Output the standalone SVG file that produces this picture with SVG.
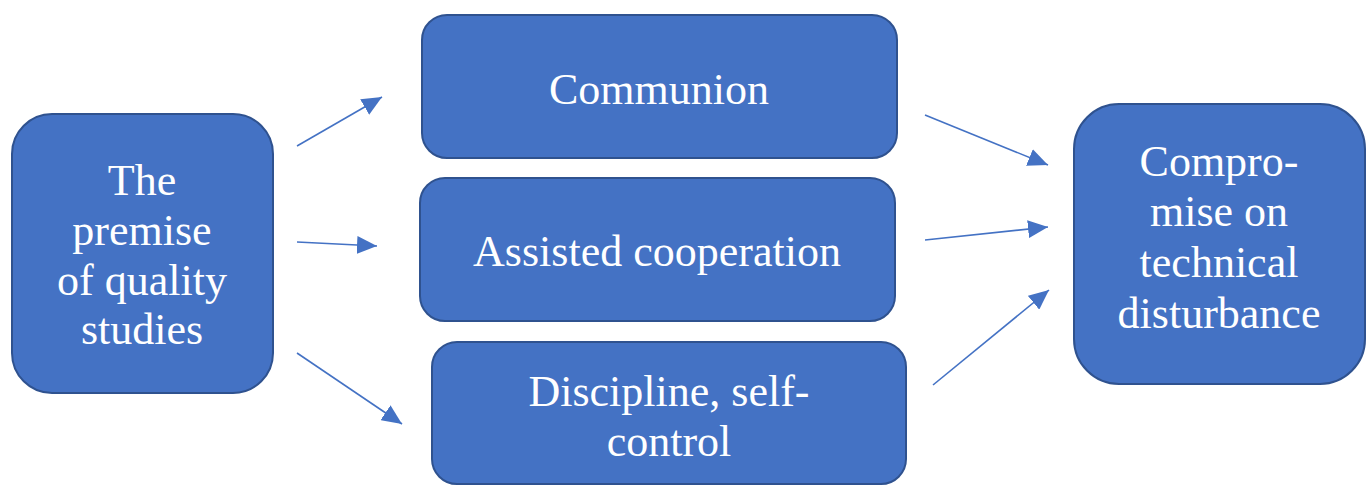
<svg xmlns="http://www.w3.org/2000/svg" width="1370" height="485" viewBox="0 0 1370 485">
<style>
.box{fill:#4472C4;stroke:#2F528F;stroke-width:2}
.t{font-family:'Liberation Serif','Times New Roman',serif;font-size:44px;fill:#fff;text-anchor:middle}
.c{stroke:#4472C4;stroke-width:1.6;fill:none}
</style>
<defs>
<marker id="ah" viewBox="0 0 20 18" refX="20" refY="9" markerWidth="20" markerHeight="18" markerUnits="userSpaceOnUse" orient="auto">
<path d="M0,0 L20,9 L0,18 Z" fill="#4472C4"/>
</marker>
</defs>
<rect width="1370" height="485" fill="#fff"/>
<g id="connectors">
<line class="c" x1="297" y1="146" x2="382" y2="97" marker-end="url(#ah)"/>
<line class="c" x1="297" y1="242" x2="377" y2="246" marker-end="url(#ah)"/>
<line class="c" x1="297" y1="353" x2="402" y2="424" marker-end="url(#ah)"/>
<line class="c" x1="925" y1="115" x2="1048" y2="165" marker-end="url(#ah)"/>
<line class="c" x1="925" y1="240" x2="1048" y2="227" marker-end="url(#ah)"/>
<line class="c" x1="933" y1="385" x2="1049" y2="290" marker-end="url(#ah)"/>
</g>
<g id="premise">
<rect class="box" x="12" y="114" width="261" height="279" rx="40"/>
<text class="t" font-family="Liberation Serif" x="142" y="195">The</text>
<text class="t" font-family="Liberation Serif" x="142" y="245">premise</text>
<text class="t" font-family="Liberation Serif" x="142" y="295">of quality</text>
<text class="t" font-family="Liberation Serif" x="142" y="344">studies</text>
</g>
<g id="communion">
<rect class="box" x="422" y="15" width="475" height="143" rx="25"/>
<text class="t" font-family="Liberation Serif" x="659" y="104">Communion</text>
</g>
<g id="assisted">
<rect class="box" x="420" y="178" width="475" height="143" rx="25"/>
<text class="t" font-family="Liberation Serif" x="657" y="266">Assisted cooperation</text>
</g>
<g id="discipline">
<rect class="box" x="432" y="342" width="474" height="142" rx="25"/>
<text class="t" font-family="Liberation Serif" x="669" y="406">Discipline, self-</text>
<text class="t" font-family="Liberation Serif" x="669" y="456">control</text>
</g>
<g id="compromise">
<rect class="box" x="1074" y="104" width="291" height="280" rx="45"/>
<text class="t" font-family="Liberation Serif" x="1219" y="176">Compro-</text>
<text class="t" font-family="Liberation Serif" x="1219" y="226">mise on</text>
<text class="t" font-family="Liberation Serif" x="1219" y="277">technical</text>
<text class="t" font-family="Liberation Serif" x="1219" y="328">disturbance</text>
</g>
</svg>
